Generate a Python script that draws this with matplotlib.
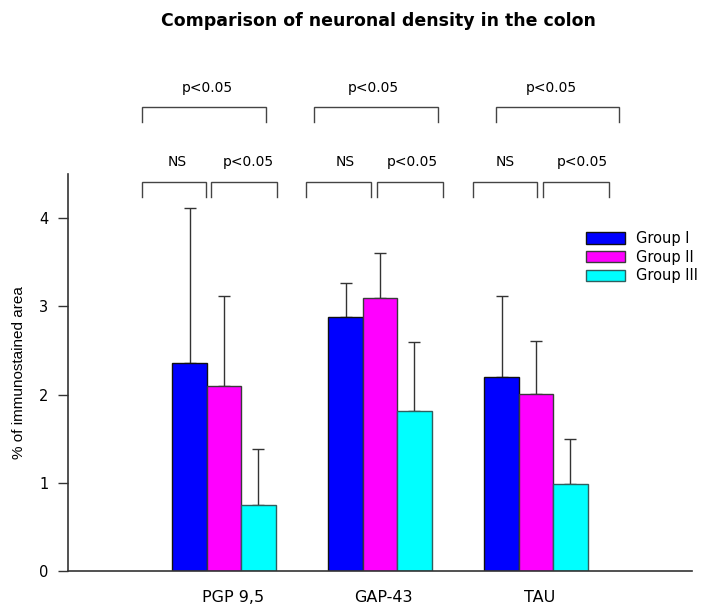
import matplotlib
matplotlib.use('Agg')
import matplotlib.pyplot as plt
import numpy as np

# data
markers = ['PGP 9,5', 'GAP-43', 'TAU']
groups = ['Group I', 'Group II', 'Group III']
means = {
    'Group I': [2.36, 2.88, 2.20],
    'Group II': [2.10, 3.10, 2.01],
    'Group III': [0.75, 1.81, 0.99],
}
sd_upper = {
    'Group I': [1.76, 0.39, 0.92],
    'Group II': [1.02, 0.50, 0.60],
    'Group III': [0.63, 0.79, 0.51],
}
colors = ['#0000ff', '#ff00ff', '#00ffff']
edges = ['#111111', '#3a3a3a', '#2f5f5f']

# significance brackets: (x0, x1, label, label_x)
top_brackets = [(0.474, 1.269, 'p<0.05', 0.891),
                (1.577, 2.372, 'p<0.05', 1.955),
                (2.744, 3.532, 'p<0.05', 3.096)]
low_brackets = [(0.474, 0.885, 'NS', 0.699), (0.917, 1.340, 'p<0.05', 1.154),
                (1.526, 1.942, 'NS', 1.776), (1.981, 2.404, 'p<0.05', 2.205),
                (2.596, 3.006, 'NS', 2.801), (3.045, 3.468, 'p<0.05', 3.295)]
label_x = [1.058, 2.019, 3.026]

fig = plt.figure(figsize=(7.04, 6.08), dpi=100)
ax = fig.add_axes([68/704, 37/608, 624/704, 397/608])

x = np.arange(1, len(markers) + 1)
w = 0.221
for i, g in enumerate(groups):
    pos = x + (i - 1) * w
    vals = means[g]
    err = [np.zeros(len(vals)), sd_upper[g]]
    ax.bar(pos, vals, width=w, color=colors[i], edgecolor=edges[i],
           linewidth=1.0, label=g, zorder=2)
    ax.errorbar(pos, vals, yerr=err, fmt='none', ecolor='#333333',
                elinewidth=1.0, capsize=4, capthick=1.0, zorder=1)

def bracket(x0, x1, y, leg, txt, tx, ty):
    ax.plot([x0, x0, x1, x1], [y - leg, y, y, y - leg], color='#444444',
            lw=1.0, clip_on=False, solid_joinstyle='miter')
    ax.text(tx, ty, txt, ha='center', va='center', fontsize=10,
            family='DejaVu Sans', clip_on=False)

for x0, x1, txt, tx in top_brackets:
    bracket(x0, x1, 5.255, 0.16, txt, tx, 5.48)
for x0, x1, txt, tx in low_brackets:
    bracket(x0, x1, 4.404, 0.16, txt, tx, 4.64)

ax.set_xlim(0, 4)
ax.set_ylim(0, 4.5)
ax.set_yticks([0, 1, 2, 3, 4])
ax.set_xticks(label_x)
ax.set_xticklabels(markers, fontsize=11.5)
ax.tick_params(axis='x', length=0, pad=14)
ax.tick_params(axis='y', length=7, width=1, color='#333333', pad=7,
               labelsize=10.5)
for s in ['top', 'right']:
    ax.spines[s].set_visible(False)
for s in ['left', 'bottom']:
    ax.spines[s].set_color('#333333')
    ax.spines[s].set_linewidth(1.2)

ax.set_ylabel('% of immunostained area', fontsize=11, family='Liberation Sans')
ax.yaxis.set_label_coords(-0.068, 0.5)

ax.legend(loc='upper left', bbox_to_anchor=(586/704, 1 - 231/608),
          bbox_transform=fig.transFigure, frameon=False, fontsize=10.5,
          handlelength=2.7, handleheight=0.8, handletextpad=0.75,
          labelspacing=0.25, borderpad=0, borderaxespad=0)

fig.text(378/704, 1 - 21/608, 'Comparison of neuronal density in the colon',
         ha='center', va='center', fontsize=12.5, fontweight='bold')

fig.savefig('out.png', dpi=100)
